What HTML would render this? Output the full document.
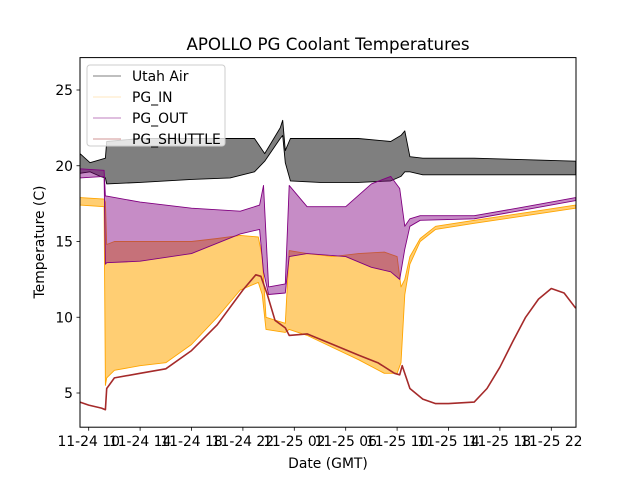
<!DOCTYPE html>
<html><head><meta charset="utf-8"><style>
html,body{margin:0;padding:0;background:#fff;}
svg{display:block;font-family:"DejaVu Sans","Liberation Sans",sans-serif;}
</style></head><body>
<svg id="chart" width="640" height="480" viewBox="0 0 640 480">
<rect x="0" y="0" width="640" height="480" fill="#fff"/>
<g id="series"></g>
<rect x="80" y="57.6" width="496" height="369.6" fill="none" stroke="#000" stroke-width="1"/>
<g id="axes"></g>
<text x="328" y="50" text-anchor="middle" font-size="16.7">APOLLO PG Coolant Temperatures</text>
<text x="328" y="468" text-anchor="middle" font-size="13.9">Date (GMT)</text>
<text x="0" y="0" transform="translate(44,242) rotate(-90)" text-anchor="middle" font-size="13.9">Temperature (C)</text>
<g>
<rect x="87" y="65" width="138" height="81" rx="3" fill="#fff" fill-opacity="0.8" stroke="#ccc"/>
<line x1="93" y1="76" x2="121" y2="76" stroke="#000" stroke-width="0.6"/>
<text x="132" y="81" font-size="13.9">Utah Air</text>
<line x1="93" y1="97" x2="121" y2="97" stroke="#ffd080" stroke-width="0.6"/>
<text x="132" y="102" font-size="13.9">PG_IN</text>
<line x1="93" y1="118" x2="121" y2="118" stroke="#800080" stroke-width="0.6"/>
<text x="132" y="123" font-size="13.9">PG_OUT</text>
<line x1="93" y1="139" x2="121" y2="139" stroke="#a52a2a" stroke-width="0.6"/>
<text x="132" y="144" font-size="13.9">PG_SHUTTLE</text>
</g>
</svg>
<script>
// hours since 11-24 00:00 GMT
const xTickHours = [10,14,18,22,26,30,34,38,42,46];
const xTickLabels = ["11-24 10","11-24 14","11-24 18","11-24 22","11-25 02","11-25 06","11-25 10","11-25 14","11-25 18","11-25 22"];
const yTicks = [5,10,15,20,25];

const airT  = [9.32,10.1,10.9,11.3,11.4,14,18,21,22.9,23.7,24.9,25.1,25.3,25.7,28,31,33.5,34.3,34.6,35,36,40,44,47.9];
const airLo = [19.5,19.6,19.3,19.2,18.8,18.9,19.1,19.2,19.6,20.3,21.8,22.0,20.2,19,18.9,18.9,19,19.3,19.6,19.6,19.4,19.4,19.4,19.4];
const airHi = [20.8,20.2,20.4,20.5,21.6,21.8,21.8,21.8,21.8,20.8,22.5,23.0,21.0,21.8,21.8,21.8,21.6,22.0,22.3,20.6,20.5,20.5,20.4,20.3];

const inT  = [9.32,11.2,11.3,11.4,12,14,16,18,20,21.8,23.2,23.5,23.8,25.3,25.6,27,29,31,33,34.0,34.3,34.6,35,35.8,37,40,44,47.9];
const inLo = [17.4,17.3,5.5,6.0,6.5,6.8,7.0,8.2,10.0,11.8,12.3,11.5,9.2,9.0,9.2,8.8,8.0,7.2,6.3,6.3,7,11.5,13.5,15,15.8,16.2,16.7,17.2];
const inHi = [17.9,17.8,17.6,14.8,15.0,15.0,15.0,15.0,15.2,15.4,15.3,14,10,9.6,14.4,14.2,14.0,14.2,14.3,14.0,12,12.5,14.0,15.2,16.0,16.4,16.9,17.4];

const outT  = [9.32,11.2,11.3,11.4,14,18,21.8,23.3,23.6,24,25.3,25.6,27,30,32,33.5,34.2,34.6,35,35.8,40,44,47.9];
const outLo = [19.2,19.3,13.5,13.6,13.7,14.2,15.5,15.8,13,11.5,11.6,14,14.2,14.0,13.3,13.0,12.5,14.5,16,16.4,16.5,17.1,17.7];
const outHi = [19.8,19.7,18.0,18.0,17.6,17.2,17.0,17.4,18.7,12.0,12.2,18.7,17.3,17.3,18.8,19.3,18.5,16.0,16.5,16.7,16.7,17.3,17.9];

const shutT = [9.32,10,11,11.3,11.4,12,14,16,18,20,22,23,23.4,23.9,24.5,25.3,25.6,27,29,31,32.5,33.8,34.2,34.4,35,36,37,38,40,41,42,43,44,45,46,47,47.9];
const shutV = [4.4,4.2,4.0,3.9,5.3,6.0,6.3,6.6,7.8,9.5,11.8,12.8,12.7,11.5,9.8,9.3,8.8,8.9,8.2,7.5,7.0,6.3,6.2,6.8,5.3,4.6,4.3,4.3,4.4,5.3,6.7,8.4,10.0,11.2,11.9,11.6,10.6];

const NS = "http://www.w3.org/2000/svg";
function xs(h){ return 88.7 + (h-10)*12.85; }
function ys(v){ return 468.75 - v*15.15; }

const seriesG = document.getElementById('series');
const axesG = document.getElementById('axes');

function band(t, lo, hi, color, opacity, name){
  let pts = [];
  for(let i=0;i<t.length;i++) pts.push(xs(t[i]).toFixed(1)+","+ys(hi[i]).toFixed(1));
  for(let i=t.length-1;i>=0;i--) pts.push(xs(t[i]).toFixed(1)+","+ys(lo[i]).toFixed(1));
  const p = document.createElementNS(NS,'polygon');
  p.setAttribute('points', pts.join(' '));
  p.setAttribute('fill', color);
  p.setAttribute('fill-opacity', opacity);
  p.setAttribute('stroke', color);
  p.setAttribute('stroke-width', '0.9');
  p.setAttribute('stroke-linejoin', 'round');
  
  
  seriesG.appendChild(p);
}
function line(t, v, color, name){
  const pts = t.map((h,i)=>xs(h).toFixed(1)+","+ys(v[i]).toFixed(1)).join(' ');
  const p = document.createElementNS(NS,'polyline');
  p.setAttribute('points', pts);
  p.setAttribute('fill', 'none');
  p.setAttribute('stroke', color);
  p.setAttribute('stroke-width', '1.6');
  p.setAttribute('stroke-linejoin', 'round');
  
  
  seriesG.appendChild(p);
}
band(airT, airLo, airHi, '#000000', '0.5', 'utah-air-series');
band(inT, inLo, inHi, '#ffa500', '0.55', 'pg-in-series');
band(outT, outLo, outHi, '#800080', '0.45', 'pg-out-series');
line(shutT, shutV, '#a52a2a', 'pg-shuttle-series');

xTickHours.forEach((h,i)=>{
  const x = xs(h);
  const l = document.createElementNS(NS,'line');
  l.setAttribute('x1',x); l.setAttribute('x2',x);
  l.setAttribute('y1',427.2); l.setAttribute('y2',430.7);
  l.setAttribute('stroke','#000'); l.setAttribute('stroke-width','0.8');
  
  
  axesG.appendChild(l);
  const tx = document.createElementNS(NS,'text');
  tx.setAttribute('x',x); tx.setAttribute('y',446);
  tx.setAttribute('text-anchor','middle'); tx.setAttribute('font-size','13.9');
  tx.textContent = xTickLabels[i];
  
  
  axesG.appendChild(tx);
});
yTicks.forEach(v=>{
  const y = ys(v);
  const l = document.createElementNS(NS,'line');
  l.setAttribute('x1',76.5); l.setAttribute('x2',80);
  l.setAttribute('y1',y); l.setAttribute('y2',y);
  l.setAttribute('stroke','#000'); l.setAttribute('stroke-width','0.8');
  
  
  axesG.appendChild(l);
  const tx = document.createElementNS(NS,'text');
  tx.setAttribute('x',73); tx.setAttribute('y',y+5);
  tx.setAttribute('text-anchor','end'); tx.setAttribute('font-size','13.9');
  tx.textContent = String(v);
  
  
  axesG.appendChild(tx);
});
</script>
</body></html>
